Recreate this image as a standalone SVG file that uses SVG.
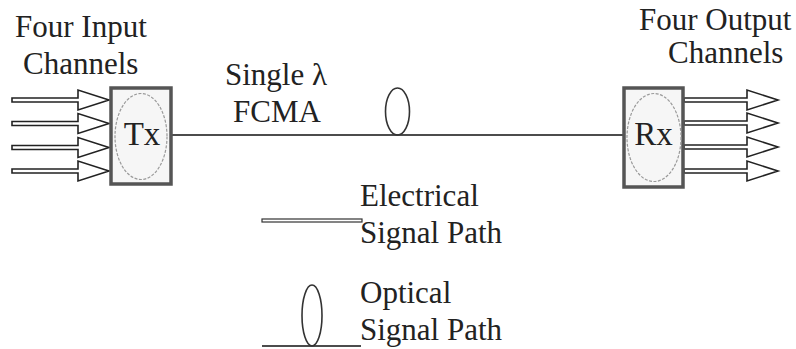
<svg xmlns="http://www.w3.org/2000/svg" width="796" height="349" viewBox="0 0 796 349">
<style>
text{font-family:'Liberation Serif','Times New Roman',serif;font-size:31px;fill:#222}
.big{font-size:33px}
.box{fill:#f6f6f6;stroke:#555;stroke-width:3.5}
.oval{fill:none;stroke:#999;stroke-width:1.2;stroke-dasharray:3 1.5}
.arrow{fill:#fff;stroke:#222;stroke-width:1.6;stroke-linejoin:miter}
.wire{fill:none;stroke:#111;stroke-width:1.6}
.fib{fill:none;stroke:#333;stroke-width:1.6}
</style>
<rect width="796" height="349" fill="#fff"/>
<g id="labels">
<text x="15" y="37">Four Input</text>
<text x="23" y="74">Channels</text>
<text x="639" y="30">Four Output</text>
<text x="668" y="63">Channels</text>
<text x="225" y="85">Single λ</text>
<text x="233" y="122">FCMA</text>
</g>
<g id="connectors">
<line class="wire" x1="172" y1="135" x2="623" y2="135"/>
<ellipse class="fib" cx="397.5" cy="111.5" rx="12" ry="23.5"/>
<path class="arrow" d="M12,98 H78 V90 L109,100 L78,110 V102 H12 Z"/>
<path class="arrow" d="M12,121.5 H78 V113.5 L109,123.5 L78,133.5 V125.5 H12 Z"/>
<path class="arrow" d="M12,145.5 H78 V137.5 L109,147.5 L78,157.5 V149.5 H12 Z"/>
<path class="arrow" d="M12,169 H78 V161 L109,171 L78,181 V173 H12 Z"/>
<path class="arrow" d="M684,98 H747 V90 L778,100 L747,110 V102 H684 Z"/>
<path class="arrow" d="M684,121 H747 V113 L778,123 L747,133 V125 H684 Z"/>
<path class="arrow" d="M684,145 H747 V137 L778,147 L747,157 V149 H684 Z"/>
<path class="arrow" d="M684,169 H747 V161 L778,171 L747,181 V173 H684 Z"/>
</g>
<g id="tx">
<rect class="box" x="111" y="88" width="60" height="96"/>
<ellipse class="oval" cx="141" cy="136.5" rx="26" ry="43"/>
<text class="big" x="142" y="145" text-anchor="middle">Tx</text>
</g>
<g id="rx">
<rect class="box" x="624" y="88" width="59" height="99"/>
<ellipse class="oval" cx="654" cy="137.5" rx="27" ry="44"/>
<text class="big" x="653.5" y="145" text-anchor="middle">Rx</text>
</g>
<g id="legend-electrical">
<rect x="262" y="219" width="100" height="3" fill="#fff" stroke="#333" stroke-width="1.2"/>
<text x="360" y="206">Electrical</text>
<text x="360" y="243">Signal Path</text>
</g>
<g id="legend-optical">
<line class="wire" x1="262" y1="346" x2="361" y2="346"/>
<ellipse class="fib" cx="312" cy="315.5" rx="10" ry="30.5"/>
<text x="360" y="303">Optical</text>
<text x="360" y="340">Signal Path</text>
</g>
</svg>
